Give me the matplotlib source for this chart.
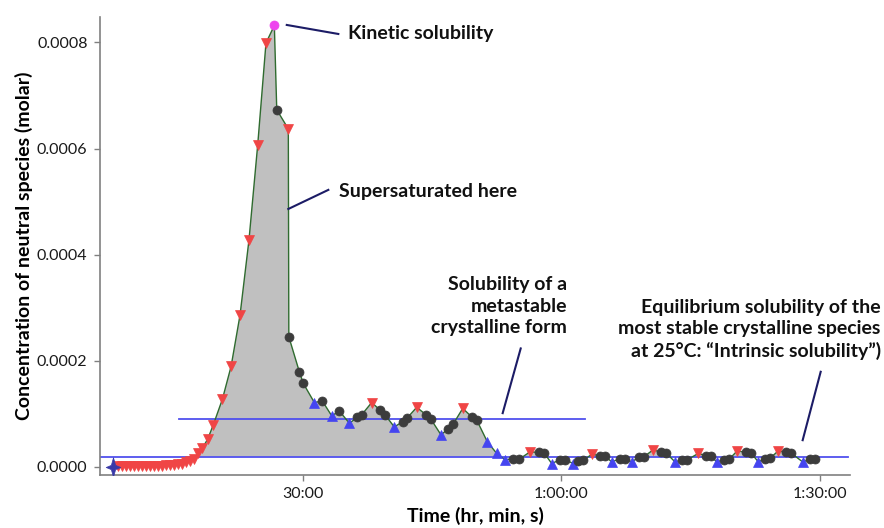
import numpy as np
import matplotlib
matplotlib.use("Agg")
import matplotlib.pyplot as plt
from matplotlib.ticker import FuncFormatter, FixedLocator

# Elapsed time (minutes) and neutral-species concentration (units of 1e-4 M)
time_min = [
    8.04, 8.58, 9.05, 9.51, 9.97, 10.44, 10.90, 11.37, 11.83, 12.29, 12.76,
    13.22, 13.68, 14.15, 14.61, 15.08, 15.54, 16.00, 16.47, 16.93, 17.40,
    17.86, 18.36, 18.98, 19.63, 20.68, 21.69, 22.73, 23.77, 24.78, 25.74,
    26.71, 26.99, 28.33, 28.39, 29.61, 30.07, 31.35, 32.27, 33.36, 34.25,
    35.41, 36.33, 36.84, 38.00, 38.96, 39.54, 40.62, 41.60, 42.06, 43.22,
    44.30, 44.85, 46.04, 46.89, 47.47, 48.56, 49.60, 50.18, 51.41, 52.50,
    53.46, 54.39, 55.09, 56.36, 57.41, 57.99, 58.88, 59.84, 60.42, 61.38,
    61.93, 62.51, 63.59, 64.48, 65.06, 65.84, 66.80, 67.38, 68.15, 69.00,
    69.58, 70.66, 71.56, 72.14, 73.18, 73.99, 74.57, 75.88, 76.77, 77.35,
    78.01, 78.86, 79.44, 80.40, 81.41, 81.99, 82.84, 83.61, 84.19, 85.16,
    86.05, 86.63, 87.98, 88.83, 89.41,
]
conc_e4 = [
    0.00, 0.01, 0.01, 0.01, 0.01, 0.01, 0.01, 0.01, 0.01, 0.01, 0.01,
    0.02, 0.02, 0.03, 0.03, 0.04, 0.05, 0.06, 0.08, 0.11, 0.15,
    0.25, 0.35, 0.52, 0.79, 1.27, 1.89, 2.86, 4.28, 6.07, 7.99,
    8.32, 6.73, 6.37, 2.45, 1.79, 1.57, 1.21, 1.24, 0.96, 1.05,
    0.82, 0.93, 0.98, 1.21, 1.07, 0.98, 0.75, 0.85, 0.91, 1.12,
    0.98, 0.90, 0.60, 0.72, 0.81, 1.10, 0.94, 0.88, 0.47, 0.25,
    0.13, 0.15, 0.14, 0.28, 0.27, 0.26, 0.06, 0.13, 0.13, 0.06,
    0.11, 0.12, 0.24, 0.20, 0.20, 0.09, 0.15, 0.15, 0.09, 0.18,
    0.19, 0.32, 0.27, 0.26, 0.09, 0.13, 0.13, 0.25, 0.21, 0.20,
    0.09, 0.13, 0.14, 0.30, 0.27, 0.26, 0.09, 0.15, 0.16, 0.30,
    0.27, 0.26, 0.09, 0.14, 0.15,
]
# Point type: S start, R supersaturated, K measured, B subsaturated, M kinetic peak
point_kind = list(
    "S" + "R" * 30 + "M" + "K" + "R" + "KKK" + "BKBKB" + "KKR" + "KKB" + "KKR"
    + "KKB" + "KKR" + "KKBBB" + "KKR" + "KKB" + "KKB" + "KKR" + "KKB" + "KKB"
    + "KKR" + "KKB" + "KKR" + "KKB" + "KKR" + "KKB" + "KKR" + "KKB" + "KK"
)

# Reference solubility levels (units of 1e-4 M) and their time spans (minutes)
metastable_level = 0.90
metastable_span = [15.6, 62.7]
intrinsic_level = 0.19
intrinsic_span = [6.49, 93.24]

t = np.array(time_min)
c = np.array(conc_e4) * 1e-4
kinds = np.array(point_kind)

plt.rcParams["font.family"] = ["Lato", "DejaVu Sans"]

fig = plt.figure(figsize=(8.84, 5.28), dpi=100)
ax = fig.add_axes([100 / 884, 1 - 474.5 / 528, 750 / 884, (474.5 - 17) / 528])

ax.fill_between(t, c, intrinsic_level * 1e-4, where=c >= intrinsic_level * 1e-4,
                interpolate=True, color="#c0c0c0", linewidth=0, zorder=1)
ax.plot(metastable_span, [metastable_level * 1e-4] * 2, color="#5050ee", lw=1.3, zorder=2)
ax.plot(intrinsic_span, [intrinsic_level * 1e-4] * 2, color="#5050ee", lw=1.3, zorder=2)
ax.plot(t, c, color="#2f6b2f", lw=1.0, zorder=3)

# Four-pointed star with concave sides, taller than wide
star_verts = [(0, 1.0), (0.22, 0.22), (0.75, 0), (0.22, -0.22), (0, -1.0),
              (-0.22, -0.22), (-0.75, 0), (-0.22, 0.22), (0, 1.0)]

styles = {
    "R": dict(marker="v", color="#f04545", ms=7.5),
    "B": dict(marker="^", color="#4545f0", ms=7.5),
    "K": dict(marker="o", color="#3c3c3c", ms=6.5),
    "M": dict(marker="o", color="#ee44ee", ms=6.5),
    "S": dict(marker=star_verts, color="#3a3aa8", ms=14),
}
for k, st in styles.items():
    m = kinds == k
    ax.plot(t[m], c[m], linestyle="none", marker=st["marker"], ms=st["ms"],
            markerfacecolor=st["color"], markeredgecolor=st["color"],
            markeredgewidth=0.5, zorder=4)

ax.set_xlim(6.49, 93.47)
ax.set_ylim(-0.0000147, 0.000848)


def fmt_time(x, pos):
    total = int(round(x * 60))
    h, rem = divmod(total, 3600)
    mnt, s = divmod(rem, 60)
    if h:
        return f"{h}:{mnt:02d}:{s:02d}"
    return f"{mnt}:{s:02d}"


ax.xaxis.set_major_locator(FixedLocator([30, 60, 90]))
ax.xaxis.set_major_formatter(FuncFormatter(fmt_time))
ax.yaxis.set_major_locator(FixedLocator([0, 0.0002, 0.0004, 0.0006, 0.0008]))
ax.yaxis.set_major_formatter(FuncFormatter(lambda v, p: f"{v:.4f}"))

for side in ("top", "right"):
    ax.spines[side].set_visible(False)
for side in ("left", "bottom"):
    ax.spines[side].set_color("#808080")
    ax.spines[side].set_linewidth(1.2)
ax.tick_params(axis="both", direction="out", length=4, width=1, color="#808080",
               labelsize=11.5, labelcolor="#1a1a1a", pad=5)

ax.set_xlabel("Time (hr, min, s)", fontsize=14, fontweight="bold", labelpad=4)
ax.set_ylabel("Concentration of neutral species (molar)", fontsize=14,
              fontweight="bold", labelpad=3)

# Callouts
navy = "#1c1c66"
callout_kw = dict(fontsize=14, fontweight="bold", color="#111111")
ax.plot([28.15, 34.13], [8.33e-4, 8.16e-4], color=navy, lw=1.5, clip_on=False, zorder=5)
ax.text(35.26, 8.16e-4, "Kinetic solubility", ha="left", va="center", **callout_kw)

ax.plot([28.33, 32.97], [4.86e-4, 5.22e-4], color=navy, lw=1.5, clip_on=False, zorder=5)
ax.text(34.25, 5.19e-4, "Supersaturated here", ha="left", va="center", **callout_kw)

ax.plot([55.28, 53.19], [2.23e-4, 1.01e-4], color=navy, lw=1.5, clip_on=False, zorder=5)
ax.text(60.69, 3.03e-4, "Solubility of a\nmetastable\ncrystalline form",
        ha="right", va="center", multialignment="right", linespacing=1.3, **callout_kw)

ax.plot([90.07, 87.98], [1.79e-4, 0.50e-4], color=navy, lw=1.5, clip_on=False, zorder=5)
ax.text(97.03, 2.59e-4,
        "Equilibrium solubility of the\nmost stable crystalline species\n"
        "at 25\u00b0C: \u201cIntrinsic solubility\u201d)",
        ha="right", va="center", multialignment="right", linespacing=1.3,
        clip_on=False, **callout_kw)

fig.savefig("out.png", dpi=100)
